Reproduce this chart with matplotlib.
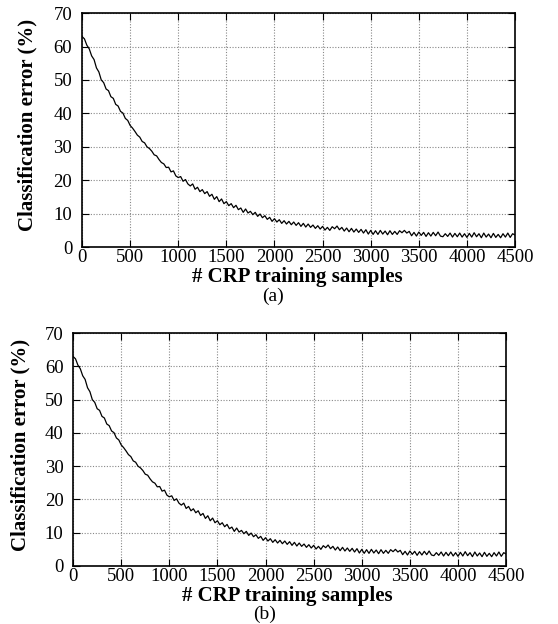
import numpy as np
import matplotlib
matplotlib.use("Agg")
import matplotlib.pyplot as plt

plt.rcParams["font.family"] = ["Liberation Serif", "DejaVu Serif"]

# training samples, every 25 from 0 to 4500
samples = np.arange(0, 4501, 25)

# classification error (%)
error_a = [
    63.0, 62.3, 60.4, 59.3, 57.2, 56.1, 53.6, 52.4, 50.0, 49.2,
    47.3, 46.8, 45.0, 44.5, 42.7, 42.2, 40.6, 40.1, 38.5, 37.9,
    36.4, 35.6, 34.6, 33.5, 32.9, 31.6, 31.2, 30.0, 29.5, 28.7,
    27.6, 27.3, 26.2, 25.3, 24.9, 23.8, 23.9, 22.5, 22.8, 21.3,
    20.8, 21.1, 19.7, 20.2, 18.9, 18.3, 18.9, 17.3, 17.9, 16.6,
    17.2, 16.0, 16.6, 15.2, 15.8, 14.3, 15.1, 13.6, 14.4, 13.0,
    13.6, 12.4, 13.0, 11.8, 12.5, 11.2, 11.7, 10.4, 11.4, 10.2,
    10.7, 9.7, 10.4, 9.2, 9.9, 8.8, 9.4, 8.3, 8.9, 7.7,
    8.5, 7.5, 8.2, 7.1, 7.9, 6.9, 7.7, 6.7, 7.5, 6.5,
    7.3, 6.2, 7.1, 6.0, 6.9, 5.9, 6.6, 5.6, 6.4, 5.4,
    6.2, 5.1, 5.9, 5.0, 6.1, 5.5, 6.3, 5.2, 5.9, 4.8,
    5.7, 4.6, 5.6, 4.5, 5.4, 4.4, 5.3, 4.2, 5.2, 3.9,
    5.0, 3.8, 4.9, 3.8, 5.0, 3.9, 4.8, 3.7, 4.9, 3.8,
    4.7, 3.8, 4.9, 4.3, 5.0, 4.2, 4.7, 3.4, 4.4, 3.3,
    4.5, 3.5, 4.4, 3.2, 4.3, 3.3, 4.4, 3.4, 4.5, 3.3,
    3.1, 4.0, 3.2, 4.2, 3.0, 4.1, 3.1, 4.2, 3.0, 4.0,
    2.9, 4.1, 3.0, 4.3, 3.1, 4.0, 2.8, 4.2, 3.0, 3.9,
    2.8, 4.1, 2.9, 3.8, 2.8, 4.0, 3.0, 4.2, 2.9, 4.0,
    3.6,
]
# panel (b) shows the same run
error_b = list(error_a)

x_ticks = list(range(0, 4501, 500))
y_ticks = list(range(0, 71, 10))

fig = plt.figure(figsize=(5.58, 6.24), dpi=100)
ax_a = fig.add_axes([0.147, 0.604, 0.776, 0.375])
ax_b = fig.add_axes([0.131, 0.093, 0.776, 0.373])

for ax, err, lx in ((ax_a, error_a, -0.104), (ax_b, error_b, -0.099)):
    ax.plot(samples, err, color="black", linewidth=0.9)
    ax.set_xlim(0, 4500)
    ax.set_ylim(0, 70)
    ax.set_xticks(x_ticks)
    ax.set_yticks(y_ticks)
    ax.grid(True, color="#888888", linestyle=(0, (1, 1.5)), linewidth=0.8)
    ax.tick_params(direction="in", top=True, right=True, length=5,
                   labelsize=13.5, width=0.8)
    ax.tick_params(axis="x", pad=1.5)
    ax.tick_params(axis="y", pad=7)
    for s in ax.spines.values():
        s.set_linewidth(1.2)
    ax.set_ylabel("Classification error (%)", fontsize=15, fontweight="bold")
    ax.yaxis.set_label_coords(lx, 0.52)

fig.text(0.533, 0.572, "# CRP training samples", ha="center", va="top",
         fontsize=15, fontweight="bold")
fig.text(0.489, 0.539, "(a)", ha="center", va="top", fontsize=14)

fig.text(0.515, 0.061, "# CRP training samples", ha="center", va="top",
         fontsize=15, fontweight="bold")
fig.text(0.475, 0.029, "(b)", ha="center", va="top", fontsize=14)

fig.savefig("out.png", dpi=100)
